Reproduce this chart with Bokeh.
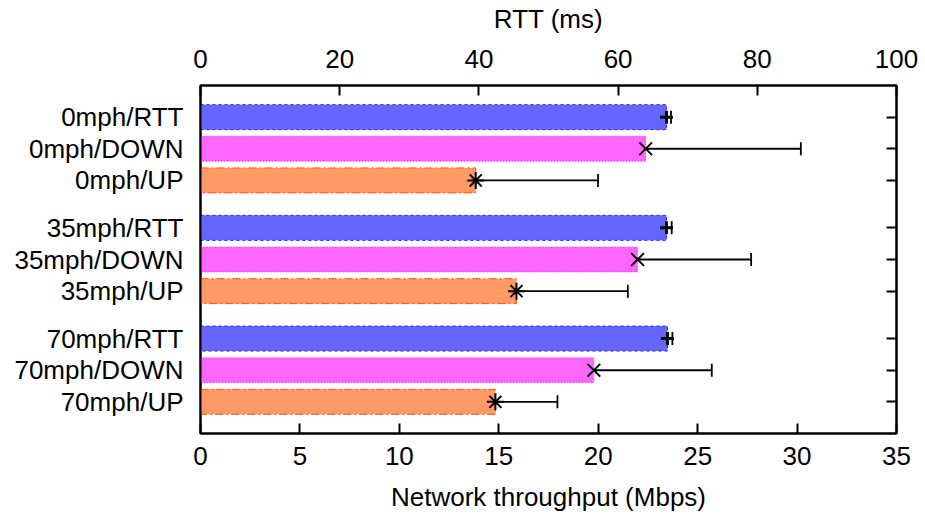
from bokeh.plotting import figure
from bokeh.models import Range1d, LinearAxis, FixedTicker, Whisker, TeeHead, ColumnDataSource
from bokeh.embed import file_html
from bokeh.resources import INLINE

# ---- data ----
speeds = ["0mph", "35mph", "70mph"]
metrics = ["RTT", "DOWN", "UP"]
rtt_ms = [66.95, 66.95, 67.1]
rtt_lo = [66.2, 66.4, 66.5]
rtt_hi = [67.6, 67.7, 67.8]
down_mbps = [22.39, 21.98, 19.78]
down_lo = [14.56, 16.24, 13.79]
down_hi = [30.19, 27.69, 25.71]
up_mbps = [13.84, 15.89, 14.83]
up_lo = [7.67, 10.24, 11.72]
up_hi = [19.99, 21.49, 17.95]
x_ticks = [0, 5, 10, 15, 20, 25, 30, 35]
rtt_ticks = [0, 20, 40, 60, 80, 100]

FONT = "Liberation Sans"
FS = "26px"

# y positions: groups separated by an extra half slot
y_rtt = [g * 3.5 + 0 for g in range(len(speeds))]
y_down = [g * 3.5 + 1 for g in range(len(speeds))]
y_up = [g * 3.5 + 2 for g in range(len(speeds))]

p = figure(width=925, height=516, output_backend="svg", toolbar_location=None,
           x_range=Range1d(0, 35), y_range=Range1d(10, -1),
           min_border_left=200, min_border_right=29, min_border_top=85, min_border_bottom=83,
           x_axis_location="below")
p.extra_x_ranges = {"rtt": Range1d(0, 100)}
p.xgrid.visible = False
p.ygrid.visible = False
p.outline_line_color = "black"
p.outline_line_width = 2
p.background_fill_color = "white"
p.border_fill_color = "white"

BH = 0.79
src_rtt = ColumnDataSource(dict(y=y_rtt, v=rtt_ms, lo=rtt_lo, hi=rtt_hi))
src_down = ColumnDataSource(dict(y=y_down, v=down_mbps, lo=down_lo, hi=down_hi))
src_up = ColumnDataSource(dict(y=y_up, v=up_mbps, lo=up_lo, hi=up_hi))

p.hbar(y="y", left=0, right="v", height=BH, source=src_rtt, x_range_name="rtt",
       fill_color="#6666ff", line_color="#2222ff", line_dash="3 3", line_width=1)
p.hbar(y="y", left=0, right="v", height=BH, source=src_down,
       fill_color="#ff66ff", line_color="#ff22ff", line_dash="1 2", line_width=1)
p.hbar(y="y", left=0, right="v", height=BH, source=src_up,
       fill_color="#ff9966", line_color="#ff5511", line_dash="8 3 2 3", line_width=1)

for src, rng in [(src_rtt, "rtt"), (src_down, "default"), (src_up, "default")]:
    w = Whisker(base="y", lower="lo", upper="hi", dimension="width", source=src,
                line_color="black", line_width=1.8,
                lower_head=TeeHead(size=13, line_color="black", line_width=1.8),
                upper_head=TeeHead(size=13, line_color="black", line_width=1.8))
    if rng != "default":
        w.x_range_name = rng
    p.add_layout(w)

p.scatter(x="v", y="y", source=src_rtt, x_range_name="rtt", marker="cross",
          size=13, line_color="black", line_width=3)
p.scatter(x="v", y="y", source=src_down, marker="x",
          size=18, line_color="black", line_width=2)
p.scatter(x="v", y="y", source=src_up, marker="asterisk",
          size=17, line_color="black", line_width=2)

def style(ax, tick_in=10):
    ax.axis_line_color = "black"
    ax.axis_line_width = 2
    ax.major_tick_in = tick_in
    ax.major_tick_out = 0
    ax.major_tick_line_width = 2
    ax.minor_tick_line_color = None
    ax.major_label_text_font = FONT
    ax.major_label_text_font_size = FS
    ax.major_label_text_color = "black"
    ax.axis_label_text_font = FONT
    ax.axis_label_text_font_size = FS
    ax.axis_label_text_font_style = "normal"
    ax.axis_label_text_color = "black"

# bottom axis
xb = p.xaxis[0]
xb.ticker = FixedTicker(ticks=x_ticks)
xb.axis_label = "Network throughput (Mbps)"
style(xb)
xb.major_label_standoff = 13
xb.axis_label_standoff = 14

# top axis
xt = LinearAxis(x_range_name="rtt", ticker=FixedTicker(ticks=rtt_ticks), axis_label="RTT (ms)")
style(xt)
xt.major_label_standoff = 18
xt.axis_label_standoff = 13
p.add_layout(xt, "above")

# left axis
ys = []
labels = {}
for g, s in enumerate(speeds):
    for k, m in enumerate(metrics):
        yv = g * 3.5 + k
        ys.append(yv)
        labels[yv] = f"{s}/{m}"
yl = p.yaxis[0]
yl.ticker = FixedTicker(ticks=ys)
yl.major_label_overrides = labels
style(yl, tick_in=0)
yl.major_label_standoff = 17

# right axis
yr = LinearAxis(ticker=FixedTicker(ticks=ys))
style(yr)
yr.major_label_text_font_size = "0px"
yr.major_label_text_color = None
yr.major_label_standoff = 0
p.add_layout(yr, "right")

open("out.html", "w").write(file_html(p, INLINE))
